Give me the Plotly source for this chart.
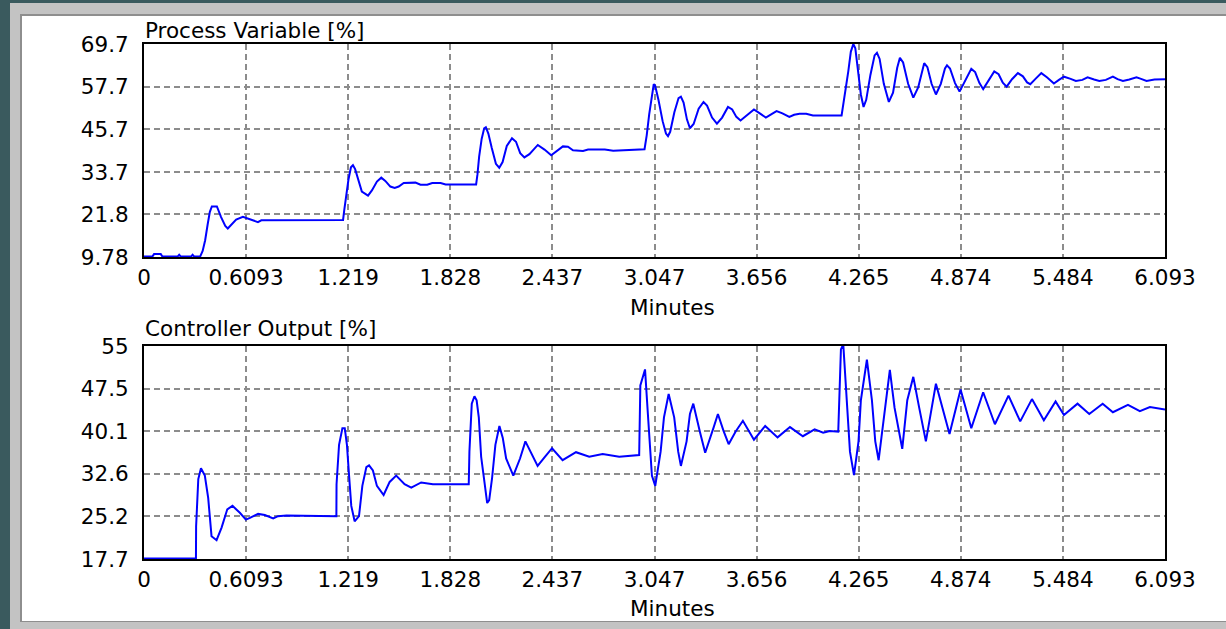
import plotly.graph_objects as go

# ---------------- data ----------------
x_tick_labels = ["0", "0.6093", "1.219", "1.828", "2.437", "3.047",
                 "3.656", "4.265", "4.874", "5.484", "6.093"]
pv_tick_labels = ["9.78", "21.8", "33.7", "45.7", "57.7", "69.7"]
co_tick_labels = ["17.7", "25.2", "32.6", "40.1", "47.5", "55"]

pv_title = "Process Variable [%]"
co_title = "Controller Output [%]"
x_title = "Minutes"

pv_minutes = [
    0, 0.05, 0.06, 0.10, 0.11, 0.20, 0.21, 0.22, 0.28, 0.29, 0.30, 0.335, 0.35, 0.365, 0.38, 0.393,
    0.405, 0.435, 0.46, 0.485, 0.50, 0.52, 0.55, 0.59, 0.62, 0.66, 0.68, 0.70, 1.188,
    1.195, 1.205, 1.22, 1.235, 1.247, 1.26, 1.28, 1.30, 1.337, 1.36, 1.39, 1.416, 1.44, 1.47,
    1.496, 1.52, 1.55, 1.62, 1.65, 1.69, 1.72, 1.77, 1.80, 1.982,
    1.99, 2.00, 2.015, 2.03, 2.04, 2.055, 2.075, 2.10, 2.12, 2.14, 2.165, 2.196, 2.22, 2.245,
    2.27, 2.30, 2.35, 2.39, 2.43, 2.465, 2.50, 2.53, 2.56, 2.62, 2.65, 2.75, 2.80, 2.987,
    3.0, 3.015, 3.03, 3.042, 3.05, 3.07, 3.095, 3.115, 3.127, 3.14, 3.165, 3.19, 3.204, 3.22,
    3.24, 3.258, 3.28, 3.31, 3.339, 3.36, 3.39, 3.419, 3.45, 3.485, 3.51, 3.535, 3.56, 3.60,
    3.64, 3.675, 3.711, 3.745, 3.775, 3.81, 3.851, 3.88, 3.912, 3.952, 3.992, 4.163,
    4.175, 4.19, 4.203, 4.218, 4.233, 4.245, 4.26, 4.278, 4.294, 4.31, 4.335, 4.36, 4.374,
    4.39, 4.415, 4.445, 4.47, 4.495, 4.511, 4.53, 4.56, 4.591, 4.62, 4.645, 4.656, 4.675,
    4.70, 4.726, 4.755, 4.78, 4.792, 4.81, 4.84, 4.867, 4.90, 4.937, 4.96, 4.985, 5.008,
    5.04, 5.074, 5.10, 5.125, 5.148, 5.18, 5.215, 5.245, 5.27, 5.289, 5.32, 5.355, 5.39,
    5.43, 5.46, 5.49, 5.53, 5.561, 5.60, 5.631, 5.67, 5.701, 5.74, 5.782, 5.81, 5.842,
    5.88, 5.923, 5.95, 5.983, 6.03, 6.093,
]
pv_percent = [
    9.9, 9.9, 10.6, 10.6, 9.9, 9.9, 10.4, 9.9, 9.9, 10.4, 9.9, 9.9, 11.5, 14.5, 19.0, 22.5,
    24.0, 24.0, 21.0, 18.5, 17.8, 18.7, 20.3, 21.1, 20.6, 19.9, 19.6, 20.1, 20.2,
    23.0, 27.0, 31.5, 35.0, 35.6, 34.5, 31.0, 28.2, 27.05, 28.5, 31.0, 32.1, 31.2, 29.6,
    29.2, 29.6, 30.6, 30.7, 30.1, 30.1, 30.6, 30.6, 30.2, 30.2,
    33.0, 38.0, 43.0, 46.0, 46.3, 44.5, 40.5, 36.0, 34.9, 36.5, 41.0, 43.2, 42.2, 39.0,
    37.8, 38.7, 41.3, 40.0, 38.4, 39.6, 40.9, 40.8, 39.8, 39.6, 40.0, 40.0, 39.7, 40.1,
    44.0, 50.0, 55.5, 58.4, 58.0, 54.0, 48.0, 44.5, 43.8, 45.0, 50.5, 54.5, 54.9, 53.2,
    48.5, 46.0, 47.2, 51.5, 53.4, 52.4, 49.0, 47.3, 49.0, 52.0, 51.3, 49.2, 48.2, 49.8,
    51.3, 50.2, 49.0, 50.0, 50.8, 50.2, 49.2, 49.8, 50.1, 50.1, 49.6, 49.6,
    53.0, 58.5, 62.0, 67.5, 69.7, 68.5, 63.0, 55.5, 52.0, 54.0, 61.0, 66.5, 67.2,
    65.5, 58.5, 53.4, 56.0, 63.0, 65.8, 64.5, 58.5, 54.6, 57.5, 62.8, 64.3, 63.2,
    58.5, 55.5, 58.5, 62.8, 63.7, 62.8, 58.7, 56.3, 59.5, 62.7, 61.8, 58.8, 57.0,
    59.5, 62.0, 61.2, 58.8, 57.7, 59.8, 61.5, 60.6, 58.9, 58.4, 59.9, 61.5, 60.3,
    58.6, 59.6, 60.5, 59.9, 59.3, 59.6, 60.3, 59.7, 59.3, 59.6, 60.5, 59.8, 59.3,
    59.7, 60.3, 59.9, 59.3, 59.7, 59.8,
]

co_minutes = [
    0, 0.31, 0.311, 0.324, 0.34, 0.363, 0.383, 0.393, 0.403, 0.433, 0.463, 0.497, 0.528,
    0.572, 0.608, 0.632, 0.681, 0.721, 0.771, 0.80, 0.85, 1.148,
    1.149, 1.164, 1.184, 1.198, 1.211, 1.223, 1.237, 1.257, 1.283, 1.303, 1.327, 1.343,
    1.366, 1.390, 1.430, 1.466, 1.505, 1.555, 1.595, 1.654, 1.724, 1.932,
    1.938, 1.942, 1.956, 1.972, 1.985, 1.998, 2.012, 2.032, 2.048, 2.06, 2.077, 2.097,
    2.121, 2.141, 2.161, 2.204, 2.244, 2.276, 2.310, 2.349, 2.39, 2.435, 2.498, 2.578,
    2.657, 2.737, 2.836, 2.955,
    2.962, 2.99, 3.007, 3.031, 3.051, 3.083, 3.103, 3.131, 3.164, 3.188, 3.204, 3.238,
    3.258, 3.278, 3.318, 3.349, 3.399, 3.425, 3.459, 3.489, 3.53, 3.574, 3.640, 3.707,
    3.781, 3.855, 3.932, 4.002, 4.053, 4.093, 4.143,
    4.149, 4.159, 4.173, 4.183, 4.203, 4.213, 4.237, 4.264, 4.278, 4.314, 4.344, 4.364,
    4.384, 4.424, 4.451, 4.479, 4.525, 4.555, 4.591, 4.626, 4.666, 4.726, 4.807, 4.873,
    4.937, 5.008, 5.078, 5.159, 5.229, 5.299, 5.370, 5.440, 5.490, 5.571, 5.641, 5.721,
    5.782, 5.872, 5.943, 6.003, 6.093,
]
co_percent = [
    17.8, 17.8, 23.4, 31.7, 33.6, 32.3, 28.4, 25.2, 21.7, 21.0, 23.2, 26.4, 27.0,
    25.8, 24.6, 24.9, 25.6, 25.4, 24.8, 25.2, 25.3, 25.2,
    30.8, 37.7, 40.6, 40.6, 37.7, 32.6, 27.0, 24.3, 25.2, 30.5, 33.8, 34.1,
    33.2, 30.5, 28.9, 31.2, 32.3, 30.8, 30.2, 31.1, 30.8, 30.8,
    30.8, 36.5, 44.9, 46.2, 45.5, 42.5, 35.6, 31.1, 27.5, 28.0, 31.8, 37.7,
    41.0, 38.9, 35.3, 32.3, 35.3, 38.3, 36.2, 34.0, 35.5, 37.1, 35.0, 36.4,
    35.6, 36.1, 35.6, 35.9,
    48.1, 50.9, 43.1, 32.3, 30.5, 36.5, 42.5, 46.6, 42.5, 36.5, 34.0, 38.3,
    43.1, 44.9, 39.9, 36.3, 40.7, 43.1, 40.1, 37.8, 40.0, 41.9, 38.6, 41.0,
    39.0, 40.8, 39.2, 40.4, 39.8, 40.1, 40.0,
    46.0, 54.4, 55.3, 50.2, 40.7, 36.5, 32.4, 38.3, 45.5, 52.6, 45.5, 38.3,
    35.0, 44.2, 50.8, 44.2, 37.0, 45.5, 49.6, 44.2, 38.3, 48.4, 39.6, 47.4,
    40.6, 46.9, 41.3, 46.3, 41.8, 45.7, 42.0, 45.3, 42.9, 44.9, 43.1, 44.9,
    43.4, 44.7, 43.6, 44.3, 43.9,
]

# ---------------- layout (pixels) ----------------
W, H = 1226, 629
PLOT_L, PLOT_R = 144, 1165
PV_TOP, PV_BOT = 44, 257
CO_TOP, CO_BOT = 346, 559
FONT = "DejaVu Sans"
FS = 21.5


def fx(px):
    return px / W


def fy(py):
    return 1 - py / H


x_vals = [float(s) for s in x_tick_labels]
pv_vals = [float(s) for s in pv_tick_labels]
co_vals = [float(s) for s in co_tick_labels]

fig = go.Figure()
fig.add_trace(go.Scatter(x=pv_minutes, y=pv_percent, mode="lines",
                         line=dict(color="#0000ff", width=2),
                         xaxis="x", yaxis="y", showlegend=False, hoverinfo="skip"))
fig.add_trace(go.Scatter(x=co_minutes, y=co_percent, mode="lines",
                         line=dict(color="#0000ff", width=2),
                         xaxis="x2", yaxis="y2", showlegend=False, hoverinfo="skip"))

grid_style = dict(showgrid=True, gridcolor="#8c8c8c", gridwidth=2, griddash="6px,4px",
                  showline=True, linecolor="black", linewidth=2, mirror=True,
                  zeroline=False, ticks="", fixedrange=True, automargin=False,
                  tickfont=dict(family=FONT, size=FS, color="black"))

xaxis_common = dict(range=[0, 6.093], tickmode="array", tickvals=x_vals,
                    ticktext=x_tick_labels, domain=[fx(PLOT_L), fx(PLOT_R)],
                    ticklabelstandoff=0, **grid_style)

fig.update_layout(
    template="none",
    width=W, height=H, autosize=False,
    margin=dict(l=0, r=0, t=0, b=0, pad=0, autoexpand=False),
    paper_bgcolor="#3a5a5e",
    plot_bgcolor="white",
    showlegend=False,
    xaxis=dict(anchor="y", **xaxis_common),
    yaxis=dict(anchor="x", range=[9.78, 69.7], tickmode="array", tickvals=pv_vals,
               ticktext=pv_tick_labels, domain=[fy(PV_BOT), fy(PV_TOP)],
               ticklabelstandoff=9, **grid_style),
    xaxis2=dict(anchor="y2", **xaxis_common),
    yaxis2=dict(anchor="x2", range=[17.7, 55], tickmode="array", tickvals=co_vals,
                ticktext=co_tick_labels, domain=[fy(CO_BOT), fy(CO_TOP)],
                ticklabelstandoff=9, **grid_style),
    shapes=[
        dict(type="rect", xref="paper", yref="paper", layer="below",
             x0=fx(10), x1=fx(W), y0=fy(H), y1=fy(3),
             fillcolor="#c3c3c3", line=dict(width=0)),
        dict(type="rect", xref="paper", yref="paper", layer="below",
             x0=fx(20), x1=fx(W), y0=fy(622), y1=fy(14),
             fillcolor="#8e8e8e", line=dict(width=0)),
        dict(type="rect", xref="paper", yref="paper", layer="below",
             x0=fx(22), x1=fx(W), y0=fy(621), y1=fy(16),
             fillcolor="white", line=dict(width=0)),
    ],
    annotations=[
        dict(text=pv_title, xref="paper", yref="paper", x=fx(143), y=fy(PV_TOP + 1),
             xanchor="left", yanchor="bottom", showarrow=False,
             font=dict(family=FONT, size=FS, color="black")),
        dict(text=co_title, xref="paper", yref="paper", x=fx(143), y=fy(CO_TOP - 3),
             xanchor="left", yanchor="bottom", showarrow=False,
             font=dict(family=FONT, size=FS, color="black")),
        dict(text=x_title, xref="paper", yref="paper", x=fx(672), y=fy(307),
             xanchor="center", yanchor="middle", showarrow=False,
             font=dict(family=FONT, size=FS, color="black")),
        dict(text=x_title, xref="paper", yref="paper", x=fx(672), y=fy(608),
             xanchor="center", yanchor="middle", showarrow=False,
             font=dict(family=FONT, size=FS, color="black")),
    ],
)

fig.write_html("out.html", config={"displayModeBar": False},
               include_plotlyjs=True, full_html=True,
               post_script="document.body.style.margin='0px';"
                           "document.body.style.padding='0px';"
                           "document.body.style.overflow='hidden';")
